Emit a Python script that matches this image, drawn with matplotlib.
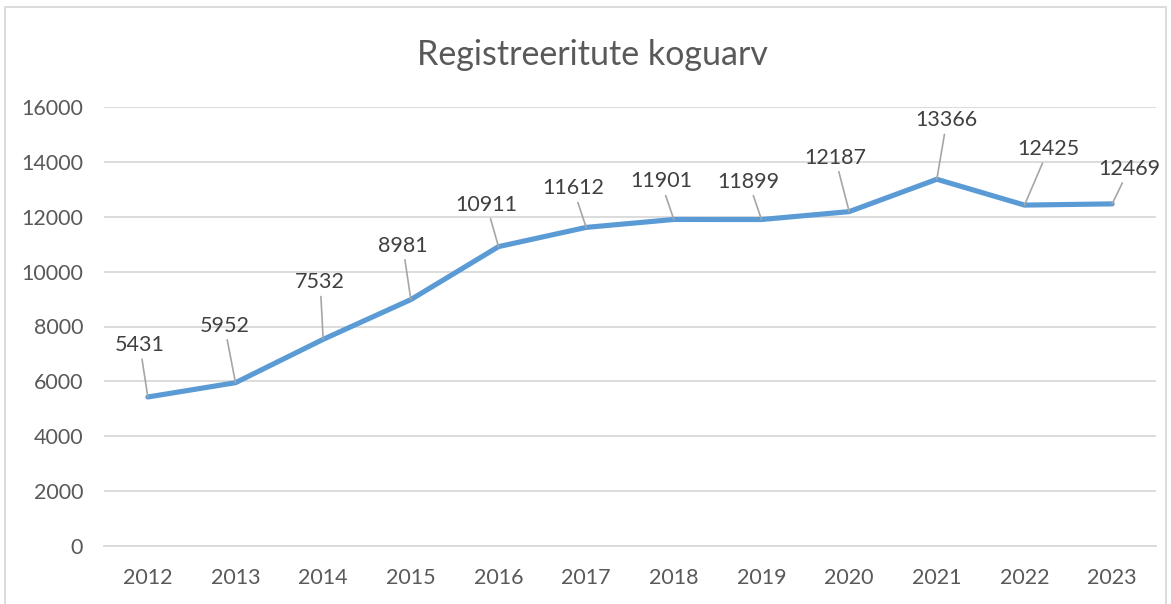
import matplotlib
matplotlib.use("Agg")
import matplotlib.pyplot as plt
from matplotlib.patches import Rectangle

years = ["2012", "2013", "2014", "2015", "2016", "2017", "2018", "2019", "2020", "2021", "2022", "2023"]
values = [5431, 5952, 7532, 8981, 10911, 11612, 11901, 11899, 12187, 13366, 12425, 12469]
yticks = [0, 2000, 4000, 6000, 8000, 10000, 12000, 14000, 16000]
title = "Registreeritute koguarv"

# label offsets in pixels (dx, dy) relative to each point
label_offsets = [(-8, 52), (-11, 57), (-3, 57), (-8, 54), (-12, 42), (-13, 39),
                 (-13, 38), (-13, 38), (-14, 54), (10, 59), (24, 56), (17, 35)]

W, H, DPI = 1171, 604, 100
fig = plt.figure(figsize=(W / DPI, H / DPI), dpi=DPI)
plt.rcParams['font.family'] = ['Lato', 'DejaVu Sans']

ax = fig.add_axes([104 / W, 1 - 546 / H, (1156 - 104) / W, (546 - 107) / H])
x = list(range(len(years)))
ax.plot(x, values, color="#5B9BD5", lw=3.7, solid_capstyle="round", solid_joinstyle="round", zorder=3)

ax.set_xlim(-0.5, len(years) - 0.5)
ax.set_ylim(0, 16000)
ax.set_yticks(yticks)
ax.set_yticklabels([str(v) for v in yticks])
ax.set_xticks(x)
ax.set_xticklabels(years)
ax.grid(axis="y", color="#D9D9D9", lw=1.3)
ax.set_axisbelow(True)
for s in ["top", "right", "left"]:
    ax.spines[s].set_visible(False)
ax.spines["bottom"].set_color("#D9D9D9")
ax.spines["bottom"].set_linewidth(1.3)
ax.tick_params(axis="both", length=0, labelsize=15.5, colors="#595959")
ax.tick_params(axis="y", pad=15)
ax.tick_params(axis="x", pad=16)

for xi, v, (dx, dy) in zip(x, values, label_offsets):
    ax.annotate(str(v), xy=(xi, v), xytext=(dx, dy), textcoords="offset pixels",
                ha="center", va="center", fontsize=15.5, color="#404040",
                arrowprops=dict(arrowstyle="-", color="#A6A6A6", lw=1.2,
                                shrinkA=1, shrinkB=0))

fig.text(592 / W, 1 - 55 / H, title, ha="center", va="center", fontsize=24.5, color="#595959")

fig.patches.append(Rectangle((5 / W, -0.01), (1166 - 5) / W, 1 - 7 / H + 0.01,
                             transform=fig.transFigure, fill=False,
                             edgecolor="#D9D9D9", lw=1.3))

fig.savefig("out.png", dpi=DPI)
